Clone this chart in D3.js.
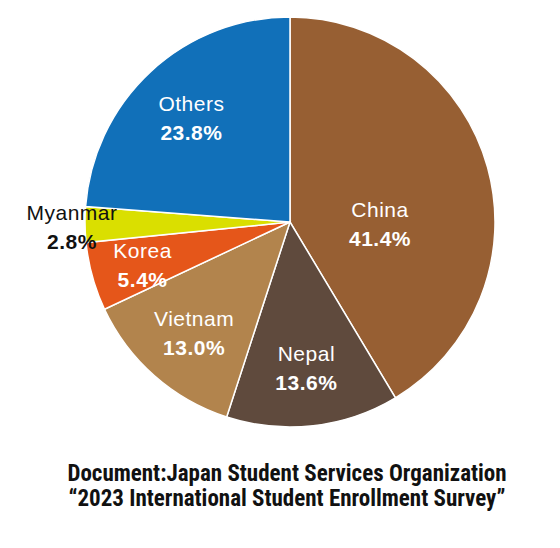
<!DOCTYPE html>
<html><head><meta charset="utf-8">
<script src="https://cdn.jsdelivr.net/npm/d3@7"></script>
<style>body{margin:0;background:#fff}</style></head>
<body><svg id="c" width="560" height="548"></svg>
<script>
const countries = ["China","Nepal","Vietnam","Korea","Myanmar","Others"];
const shares = [41.4,13.6,13.0,5.4,2.8,23.8];
const colors = ["#975F33","#5F4A3D","#B2844D","#E5561A","#DADF00","#1170B9"];
const svg = d3.select("#c");
const cx=290, cy=222, R=205;
const g = svg.append("g").attr("transform",`translate(${cx},${cy})`);
const pie = d3.pie().sort(null).value(d=>d.v);
const data = pie(countries.map((c,i)=>({c,v:shares[i],col:colors[i]})));
const arc = d3.arc().innerRadius(0).outerRadius(R);
g.selectAll("path").data(data).join("path").attr("d",arc).attr("fill",d=>d.data.col)
 .attr("stroke","#fff").attr("stroke-width",1.5);
const labelPos = (d,i)=>{
  const a=(d.startAngle+d.endAngle)/2;
  let r=[0,145,145,153,218,145][i];
  if(i===0) return [90,0];
  return [r*Math.sin(a), -r*Math.cos(a)];
};
const lab = g.selectAll("text.l").data(data).join("text").attr("class","l")
 .attr("text-anchor","middle").attr("font-family","Liberation Sans, Arial, sans-serif")
 .attr("font-size",21).attr("fill",(d,i)=>i===4?"#111":"#fff")
 .attr("transform",(d,i)=>`translate(${labelPos(d,i)})`);
lab.append("tspan").attr("x",0).attr("dy",-5).attr("letter-spacing",0.5).text(d=>d.data.c);
lab.append("tspan").attr("x",0).attr("dy",29).attr("font-weight","bold").attr("letter-spacing",0.5).text(d=>d.data.v.toFixed(1)+"%");
const caption=["Document:Japan Student Services Organization","“2023 International Student Enrollment Survey”"];
svg.selectAll("text.cap").data(caption).join("text").attr("class","cap")
 .attr("x",287).attr("y",(d,i)=>481+i*25).attr("text-anchor","middle")
 .attr("font-family","Liberation Sans Narrow, Roboto Condensed, Arial Narrow, sans-serif")
 .attr("font-weight","bold").attr("font-size",23).attr("fill","#111").text(d=>d);
</script></body></html>
